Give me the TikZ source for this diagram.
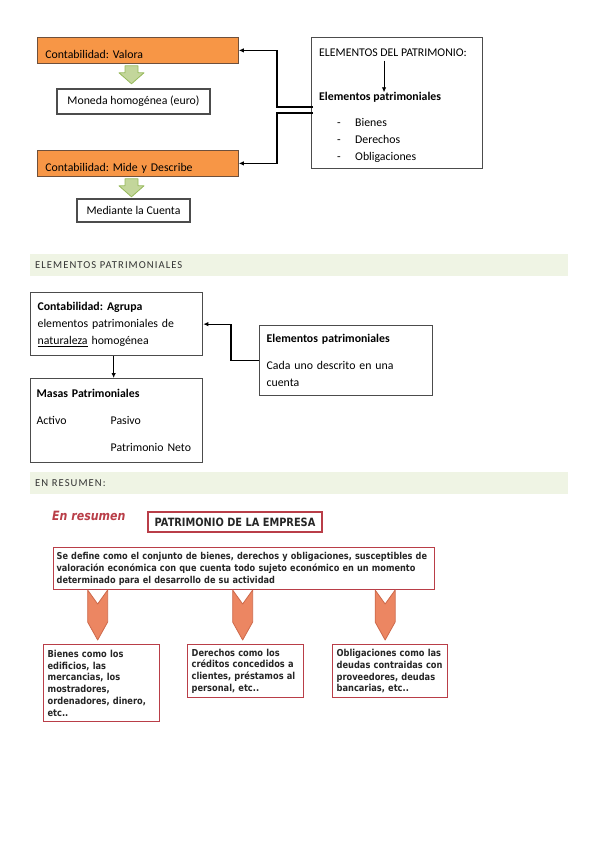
\documentclass[tikz,border=0pt]{standalone}
\usepackage{fontspec}
\setmainfont{Carlito}
\newfontfamily\resfont[FakeStretch=0.86]{DejaVu Sans}
\newfontfamily\hdrfont[LetterSpace=10]{Carlito}
\usepackage{tikz}
\usepackage{xcolor}
\usetikzlibrary{arrows.meta, positioning, calc}
\definecolor{cOrange}{RGB}{247,150,70}
\definecolor{cOrangeLine}{RGB}{110,80,60}
\definecolor{cGreen}{RGB}{195,214,155}
\definecolor{cGreenLine}{RGB}{150,185,90}
\definecolor{cBand}{RGB}{239,244,228}
\definecolor{cRed}{RGB}{185,62,72}
\definecolor{cSalmon}{RGB}{236,134,98}
\definecolor{cSalmonLine}{RGB}{205,105,75}
\AtBeginDocument{\frenchspacing\fontsize{11.8}{14}\selectfont}
\tikzset{
	orbox/.style ={rectangle, draw=cOrangeLine, line width=0.8pt, fill=cOrange, anchor=north west, text width=185pt, align=left, inner xsep=8pt, inner ysep=4pt, text height=17pt, text depth=1pt},
	whbox/.style ={rectangle, draw=black!70, line width=1.2pt, fill=white, align=center},
	grbox/.style ={rectangle, draw=black!70, line width=1.3pt, anchor=north west, align=left, inner xsep=7pt, font=\fontsize{11.8}{17}\selectfont},
	txt/.style   ={anchor=west, inner sep=0pt, text height=8.5pt, text depth=2.5pt},
	band/.style  ={rectangle, fill=cBand, anchor=north west, minimum width=538pt, minimum height=22pt, text width=528pt, inner xsep=5pt, align=left, text=black!80, font=\hdrfont\fontsize{10.6}{12}\selectfont},
	garrow/.style={draw=cGreenLine, fill=cGreen, line width=0.8pt, line join=round},
	conn/.style  ={-{Latex[length=5pt,width=4.5pt]}, line width=1.1pt},
	% resumen block styles
	redbox/.style={rectangle, draw=cRed, line width=1.3pt, fill=white, font=\resfont\bfseries\fontsize{9.6}{11.8}\selectfont, text=black!85},
	oarrow/.style={draw=cSalmonLine, fill=cSalmon, line width=0.8pt, line join=round},
}
\begin{document}
\begin{tikzpicture}[x=1pt, y=-1pt]
	\useasboundingbox (0,0) rectangle (599,848);
	\node[orbox] (valora) at (37,37) {Contabilidad: Valora};
	\node[whbox, minimum width=153pt, minimum height=25pt] (moneda) at (133.5,101.5) {Moneda homogénea (euro)};
	\node[orbox] (mide) at (37,150) {Contabilidad: Mide y Describe};
	\node[whbox, minimum width=113pt, minimum height=23pt] (cuenta) at (133.5,210.5) {Mediante la Cuenta};
	\foreach \a in {valora, mide}
		\draw[garrow] ($(\a.south west)+(88,2)$) -- ++(13,0) -- ++(0,7) -- ++(6,0) -- ++(-12.5,11) -- ++(-12.5,-11) -- ++(6,0) -- cycle;
	\node[whbox, anchor=north west, minimum width=171pt, minimum height=131pt] (patr) at (311,37) {};
	\node[txt] (elemtit) at (319,54) {ELEMENTOS DEL PATRIMONIO:};
	\node[txt, font=\bfseries] (elempat) at (319,98) {Elementos patrimoniales};
	\coordinate (ax) at ($(elemtit.south)+(-9,1)$);
	\draw[conn, line width=0.9pt] (ax) -- (ax |- elempat.north);
	\foreach \w [count=\i] in {Bienes, Derechos, Obligaciones} {
		\node[txt] (dash\i) at (337,106+17*\i) {-};
		\node[txt] (item\i) at (355,106+17*\i) {\w};
	}
	\draw[conn] ($(patr.north west)+(2,70)$) -- ++(-36,0) |- (valora.east);
	\draw[conn] ($(patr.north west)+(2,76)$) -- ++(-36,0) |- (mide.east);

	\node[band] (hdrelem) at (30,254) {ELEMENTOS PATRIMONIALES};
	\node[grbox, minimum width=172pt, minimum height=63pt, text width=158pt] (agrupa) at (30,292) {\textbf{Contabilidad: Agrupa}\\ elementos patrimoniales de\\ \underline{naturaleza} homogénea};
	\node[grbox, minimum width=172pt, minimum height=84pt, text width=160pt, inner xsep=6pt] (masas) at (30,378) {\textbf{Masas Patrimoniales}\\[10pt] \makebox[74pt][l]{Activo}Pasivo\\[10pt] \hspace*{74pt}Patrimonio Neto};
	\node[grbox, minimum width=173pt, minimum height=70pt, text width=159pt] (elem2) at (259,325) {\textbf{Elementos patrimoniales}\\[10pt] Cada uno descrito en una\\ cuenta};
	\draw[conn, line width=0.9pt] ($(agrupa.south)+(-3,0)$) -- ($(masas.north)+(-3,0)$);
	\draw[conn] (elem2.west) -- ++(-28,0) |- (agrupa.east);

	\node[band] (hdrres) at (30,472) {EN RESUMEN:};
	\node[txt, text=cRed, font=\resfont\bfseries\itshape\fontsize{12.8}{14}\selectfont] (enres) at (52,517) {En resumen};
	\node[redbox, minimum width=174pt, minimum height=20pt, font=\resfont\bfseries\fontsize{11.4}{13}\selectfont] (patemp) at (235,522) {PATRIMONIO DE LA EMPRESA};
	\node[redbox, anchor=north west, text width=375pt, minimum height=42pt, align=left, inner xsep=3pt, font=\resfont\bfseries\fontsize{9.5}{12}\selectfont] (defin) at (53,547) {Se define como el conjunto de bienes, derechos y obligaciones, susceptibles de\\ valoración económica con que cuenta todo sujeto económico en un momento\\ determinado para el desarrollo de su actividad};
	\node[redbox, anchor=north west, text width=108pt, minimum height=77pt, align=left, inner xsep=4pt] (bienes) at (43,644) {Bienes como los\\ edificios, las\\ mercancias, los\\ mostradores,\\ ordenadores, dinero,\\ etc..};
	\node[redbox, anchor=north west, text width=108pt, minimum height=53pt, align=left, inner xsep=4pt] (derechos) at (187,644) {Derechos como los\\ créditos concedidos a\\ clientes, préstamos al\\ personal, etc..};
	\node[redbox, anchor=north west, text width=107pt, minimum height=53pt, align=left, inner xsep=4pt] (oblig) at (332,644) {Obligaciones como las\\ deudas contraidas con\\ proveedores, deudas\\ bancarias, etc..};
	\foreach \b/\dx in {bienes/-4, derechos/-3, oblig/-5}
		\draw[oarrow] ($(\b.north)+(\dx,-4)$) -- ++(-10,-18) -- ++(0,-32) -- ++(10,14) -- ++(10,-14) -- ++(0,32) -- cycle;
\end{tikzpicture}
\end{document}
